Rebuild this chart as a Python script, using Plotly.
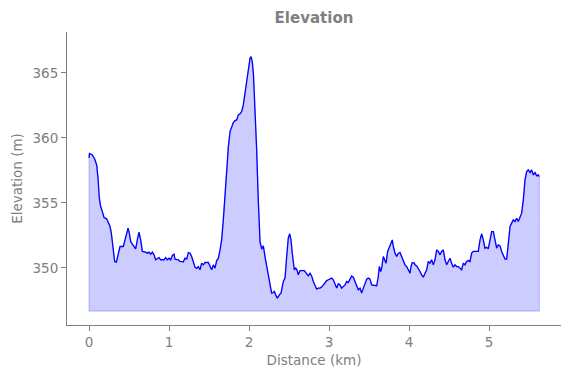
import plotly.graph_objects as go

# ---- data ----
distance_km = [
    0.000, 0.006, 0.042, 0.071, 0.096, 0.113, 0.129, 0.146, 0.167, 0.188,
    0.221, 0.238, 0.263, 0.279, 0.292, 0.304, 0.321, 0.342, 0.354, 0.371,
    0.388, 0.429, 0.446, 0.471, 0.488, 0.504, 0.521, 0.542, 0.563, 0.583,
    0.604, 0.625, 0.646, 0.667, 0.708, 0.729, 0.750, 0.771, 0.792, 0.813,
    0.833, 0.854, 0.875, 0.896, 0.938, 0.958, 0.979, 1.000, 1.021, 1.042,
    1.063,
    1.075, 1.117, 1.138, 1.179, 1.200, 1.221, 1.242, 1.263, 1.283, 1.304,
    1.325, 1.346, 1.367, 1.388, 1.408, 1.429, 1.450, 1.492, 1.513, 1.533,
    1.554, 1.575, 1.596, 1.617, 1.638, 1.658, 1.679, 1.700, 1.721, 1.742,
    1.763, 1.783, 1.804, 1.825, 1.846, 1.867, 1.888, 1.908, 1.929, 1.950,
    1.971, 1.992, 2.013, 2.025,
    2.041, 2.056, 2.075, 2.096, 2.116, 2.138, 2.159, 2.179, 2.200, 2.221,
    2.241, 2.263, 2.283, 2.304, 2.316, 2.334, 2.354, 2.379, 2.400, 2.429,
    2.450, 2.471, 2.491, 2.509, 2.525, 2.541, 2.566, 2.584, 2.600, 2.616,
    2.638, 2.691, 2.721, 2.741, 2.763, 2.783, 2.804, 2.825, 2.846, 2.866,
    2.888, 2.908, 2.950, 2.971,
    2.992, 3.013, 3.033, 3.054, 3.075, 3.096, 3.117, 3.138, 3.158, 3.179,
    3.200, 3.221, 3.241, 3.263, 3.283, 3.304, 3.325, 3.346, 3.366, 3.388,
    3.408, 3.429, 3.450, 3.471, 3.491, 3.513, 3.533, 3.575, 3.596, 3.616,
    3.629, 3.646, 3.658, 3.679, 3.700, 3.713, 3.733, 3.750, 3.771, 3.791,
    3.804, 3.825, 3.846, 3.866, 3.888, 3.908, 3.929, 3.950, 3.971, 3.991,
    4.013, 4.025, 4.041, 4.066,
    4.075, 4.096, 4.116, 4.138, 4.158, 4.179, 4.200, 4.221, 4.241, 4.263,
    4.283, 4.304, 4.325, 4.346, 4.366, 4.388, 4.408, 4.429, 4.450, 4.471,
    4.491, 4.513, 4.533, 4.554, 4.575, 4.596, 4.616, 4.638, 4.658, 4.679,
    4.700, 4.721, 4.741, 4.763, 4.783, 4.804, 4.846, 4.866,
    4.888, 4.908, 4.929, 4.950, 4.971, 4.991, 5.013, 5.033, 5.054, 5.075,
    5.096, 5.116, 5.138, 5.158, 5.179, 5.200, 5.221, 5.241, 5.263, 5.283,
    5.304, 5.325, 5.346, 5.366, 5.388, 5.408, 5.429, 5.450, 5.471, 5.491,
    5.513, 5.533, 5.554, 5.575, 5.596, 5.616, 5.629,
]

elevation_m = [
    358.46, 358.80, 358.69, 358.38, 357.92, 356.90, 355.36, 354.72, 354.33, 353.87,
    353.77, 353.56, 353.18, 352.67, 352.03, 351.26, 350.49, 350.44, 350.74, 351.31,
    351.64, 351.64, 352.03, 352.74, 353.05, 352.67, 352.03, 351.82, 351.64, 351.46,
    352.15, 352.74, 352.15, 351.26, 351.21, 351.13, 351.21, 351.05, 351.21, 351.00,
    350.62, 350.74, 350.79, 350.62, 350.62, 350.79, 350.62, 350.74, 350.62, 350.95,
    351.05,
    350.67, 350.62, 350.49, 350.46, 350.74, 350.67, 351.18, 351.13, 350.87, 350.49,
    350.05, 349.95, 350.10, 349.85, 350.36, 350.23, 350.41, 350.41, 350.15, 349.85,
    350.23, 349.97, 350.56, 350.74, 351.38, 352.15, 353.69, 355.74, 357.79, 359.33,
    360.49, 360.92, 361.18, 361.33, 361.38, 361.77, 361.85, 362.03, 362.54, 363.44,
    364.46, 365.49, 366.13, 366.26,
    365.87, 364.85, 362.54, 359.08, 355.23, 352.02, 351.44, 351.69, 350.87, 350.10,
    349.46, 348.69, 348.05, 348.10, 348.18, 347.92, 347.67, 347.92, 348.05, 348.95,
    349.21, 350.87, 352.28, 352.62, 352.15, 351.13, 349.85, 349.98, 349.85, 349.46,
    349.79, 349.79, 349.54, 349.38, 349.59, 349.38, 348.95, 348.69, 348.36, 348.44,
    348.44, 348.52, 348.82, 349.02,
    349.08, 349.13, 349.21, 349.08, 348.69, 348.44, 348.77, 348.69, 348.44, 348.56,
    348.69, 348.95, 348.87, 349.13, 349.38, 349.28, 348.95, 348.69, 348.31, 348.44,
    348.05, 348.44, 348.82, 349.13, 349.21, 349.13, 348.69, 348.62, 348.62, 349.33,
    350.10, 349.72, 349.97, 350.87, 350.49, 350.36, 351.26, 351.51, 351.77, 352.15,
    351.64, 351.13, 350.87, 351.13, 351.18, 350.87, 350.41, 350.23, 350.10, 349.90,
    349.59, 350.10, 350.41, 350.36,
    350.23, 350.15, 349.97, 349.72, 349.46, 349.28, 349.59, 349.85, 350.49, 350.36,
    350.62, 350.23, 350.62, 351.38, 351.26, 351.00, 351.26, 351.38, 350.62, 350.23,
    350.49, 350.74, 350.36, 350.05, 350.23, 350.10, 350.10, 349.97, 349.85, 350.36,
    350.23, 350.49, 350.56, 350.49, 351.13, 351.26, 351.26, 351.26,
    352.15, 352.62, 352.15, 351.51, 351.58, 351.46, 352.15, 352.79, 352.79, 352.15,
    351.51, 351.77, 351.69, 351.26, 351.00, 350.67, 350.67, 352.15, 353.18, 353.44,
    353.69, 353.56, 353.82, 353.56, 353.90, 354.21, 355.23, 356.77, 357.41, 357.54,
    357.33, 357.54, 357.15, 357.33, 357.08, 357.15, 357.02,
]

x_ticks = [0, 1, 2, 3, 4, 5]
y_ticks = [350, 355, 360, 365]

assert len(distance_km) == len(elevation_m)

# fill goes down to 1 m below the lowest point
baseline = min(elevation_m) - 1

GRAY = "#808080"
FONT = "DejaVu Sans"

# The page body keeps the browser's default 8px margin, so the figure is
# drawn 8px smaller than the window and placed so that it lines up.
FIG_W, FIG_H = 555, 362

fill_x = distance_km + [distance_km[-1], distance_km[0], distance_km[0]]
fill_y = elevation_m + [baseline, baseline, elevation_m[0]]

fig = go.Figure()
fig.add_trace(go.Scatter(
    x=fill_x, y=fill_y, mode="lines", fill="toself",
    fillcolor="rgba(0,0,255,0.2)",
    line=dict(color="rgba(0,0,255,0.2)", width=1.2),
    hoverinfo="skip", showlegend=False,
))
fig.add_trace(go.Scatter(
    x=distance_km, y=elevation_m, mode="lines",
    line=dict(color="blue", width=1.3),
    showlegend=False,
))

fig.update_layout(
    width=FIG_W, height=FIG_H,
    margin=dict(l=59, r=2, t=24, b=45),
    plot_bgcolor="white", paper_bgcolor="white",
    font=dict(family=FONT, color=GRAY, size=13.5),
    title=dict(text="<b>Elevation</b>", x=0.5, xref="paper", xanchor="center",
               y=1 - 10 / FIG_H, yref="container", yanchor="middle",
               font=dict(size=15, color=GRAY, family=FONT)),
)
fig.update_xaxes(
    range=[-0.275, 5.9], tickvals=x_ticks, ticktext=[str(v) for v in x_ticks],
    showline=True, linecolor=GRAY, linewidth=1, mirror=False,
    ticks="outside", ticklen=5, tickcolor=GRAY, tickwidth=1,
    showgrid=False, zeroline=False, automargin=False,
    tickfont=dict(size=13.5, color=GRAY),
    title=dict(text="Distance (km)", font=dict(size=13.5, color=GRAY), standoff=6),
)
fig.update_yaxes(
    range=[345.6, 368.15], tickvals=y_ticks, ticktext=[str(v) for v in y_ticks],
    showline=True, linecolor=GRAY, linewidth=1, mirror=False,
    ticks="outside", ticklen=5, tickcolor=GRAY, tickwidth=1,
    showgrid=False, zeroline=False, automargin=False,
    tickfont=dict(size=13.5, color=GRAY),
    title=dict(text="Elevation (m)", font=dict(size=13.5, color=GRAY), standoff=6),
)

fig.write_html("out.html")
